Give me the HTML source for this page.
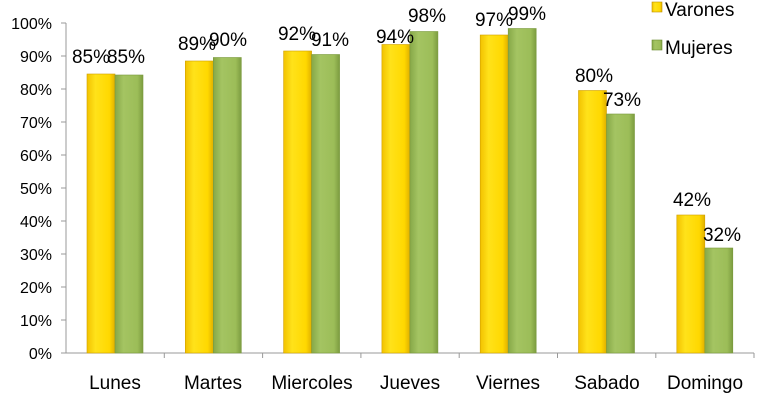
<!DOCTYPE html>
<html><head><style>body{margin:0;background:#fff}.y{fill:url(#y);stroke:#d0a000;stroke-width:.6}.g{fill:url(#g);stroke:#7a9a3c;stroke-width:.6}</style></head><body>
<svg width="769" height="404" xmlns="http://www.w3.org/2000/svg" font-family="Liberation Sans, Arial, sans-serif">
<defs>
<linearGradient id="y" x1="0" x2="1"><stop offset="0" stop-color="#f2c200"/><stop offset="0.3" stop-color="#ffe21a"/><stop offset="0.8" stop-color="#ffd800"/><stop offset="1" stop-color="#e0b000"/></linearGradient>
<linearGradient id="g" x1="0" x2="1"><stop offset="0" stop-color="#86a848"/><stop offset="0.3" stop-color="#a4c462"/><stop offset="0.8" stop-color="#9cbd58"/><stop offset="1" stop-color="#7c9c40"/></linearGradient>
</defs>
<g stroke="#999" stroke-width="1">
<line x1="66" y1="23" x2="66" y2="353"/>
<line x1="66" y1="353" x2="754" y2="353"/>
<line x1="61" y1="353" x2="66" y2="353"/><line x1="61" y1="320" x2="66" y2="320"/><line x1="61" y1="287" x2="66" y2="287"/><line x1="61" y1="254" x2="66" y2="254"/><line x1="61" y1="221" x2="66" y2="221"/><line x1="61" y1="188" x2="66" y2="188"/><line x1="61" y1="155" x2="66" y2="155"/><line x1="61" y1="122" x2="66" y2="122"/><line x1="61" y1="89" x2="66" y2="89"/><line x1="61" y1="56" x2="66" y2="56"/><line x1="61" y1="23" x2="66" y2="23"/>
<line x1="164.3" y1="353" x2="164.3" y2="358"/><line x1="262.6" y1="353" x2="262.6" y2="358"/><line x1="360.9" y1="353" x2="360.9" y2="358"/><line x1="459.2" y1="353" x2="459.2" y2="358"/><line x1="557.5" y1="353" x2="557.5" y2="358"/><line x1="655.8" y1="353" x2="655.8" y2="358"/><line x1="754" y1="353" x2="754" y2="358"/>
</g>
<g font-size="16" text-anchor="end" fill="#000">
<text x="52" y="359">0%</text><text x="52" y="326">10%</text><text x="52" y="293">20%</text><text x="52" y="260">30%</text><text x="52" y="227">40%</text><text x="52" y="194">50%</text><text x="52" y="161">60%</text><text x="52" y="128">70%</text><text x="52" y="95">80%</text><text x="52" y="62">90%</text><text x="52" y="29">100%</text>
</g>
<rect class="y" x="87" y="74" width="28" height="279"/><rect class="g" x="115" y="75" width="28" height="278"/>
<rect class="y" x="185.3" y="61" width="28" height="292"/><rect class="g" x="213.3" y="57.5" width="28" height="295.5"/>
<rect class="y" x="283.6" y="51" width="28" height="302"/><rect class="g" x="311.6" y="54.5" width="28" height="298.5"/>
<rect class="y" x="381.9" y="44.5" width="28" height="308.5"/><rect class="g" x="409.9" y="31.5" width="28" height="321.5"/>
<rect class="y" x="480.2" y="35" width="28" height="318"/><rect class="g" x="508.2" y="28.5" width="28" height="324.5"/>
<rect class="y" x="578.5" y="90.5" width="28" height="262.5"/><rect class="g" x="606.5" y="114" width="28" height="239"/>
<rect class="y" x="676.8" y="215" width="28" height="138"/><rect class="g" x="704.8" y="248" width="28" height="105"/>
<g font-size="19" text-anchor="middle" fill="#000">
<text x="91" y="63">85%</text><text x="126" y="63">85%</text>
<text x="197" y="50">89%</text><text x="228" y="46">90%</text>
<text x="297" y="40">92%</text><text x="330" y="46">91%</text>
<text x="395" y="43">94%</text><text x="427" y="22">98%</text>
<text x="494" y="26">97%</text><text x="527" y="20">99%</text>
<text x="594" y="82">80%</text><text x="622" y="106">73%</text>
<text x="692" y="206">42%</text><text x="722" y="241">32%</text>
</g>
<g font-size="19" text-anchor="middle" fill="#000">
<text x="115" y="389">Lunes</text><text x="213" y="389">Martes</text><text x="312" y="389">Miercoles</text><text x="410" y="389">Jueves</text><text x="508" y="389">Viernes</text><text x="607" y="389">Sabado</text><text x="705" y="389">Domingo</text>
</g>
<rect x="652" y="2" width="10" height="10" fill="url(#y)" stroke="#c09000" stroke-width="0.6"/>
<text x="665" y="16" font-size="19">Varones</text>
<rect x="652" y="40" width="10" height="10" fill="url(#g)" stroke="#6a8a30" stroke-width="0.6"/>
<text x="665" y="54" font-size="19">Mujeres</text>
</svg>
</body></html>
